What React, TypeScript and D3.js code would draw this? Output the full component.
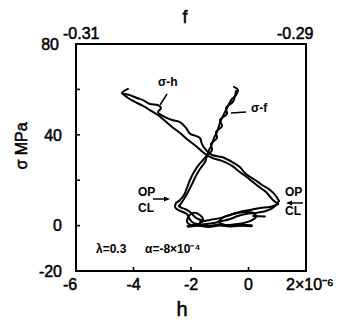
import React from "react";
import * as d3 from "d3";

// h axis (bottom, x1e-6), f axis (top), stress axis
const hTicks = [-6, -4, -2, 0, 2];
const hTickLabels = ["-6", "-4", "-2", "0", "2×10⁻⁶"];
const sTicks = [-20, 0, 20, 40, 60, 80];
const sTickLabels = ["-20", "0", "", "40", "", "80"];
const fTicks = [-0.31, -0.29];
const fTickLabels = ["-0.31", "-0.29"];

// sigma-h curve (h, MPa)
const sigmaHUpperA: [number, number][] = [
  [-4.19, 60.2], [-4.4, 58.4], [-4.12, 57.5], [-3.88, 56.2], [-3.67, 55.3], [-3.43, 53.6],
  [-3.15, 53.1], [-3.04, 51.8], [-3.15, 50.0], [-2.9, 47.8], [-2.66, 46.5], [-2.38, 45.6],
  [-2.17, 43.0], [-2.03, 40.4], [-1.83, 39.5], [-1.69, 38.6], [-1.62, 36.0], [-1.48, 33.3],
  [-1.27, 31.1], [-0.92, 30.2], [-0.57, 28.0], [-0.3, 25.8], [-0.09, 22.7], [0.23, 20.1],
  [0.47, 17.9], [0.75, 15.7], [0.96, 13.0], [1.06, 10.8],
];
const sigmaHUpperB: [number, number][] = [
  [1.03, 9.5], [0.85, 11.3], [0.61, 14.8], [0.33, 17.4], [-0.02, 21.0], [-0.3, 23.6],
  [-0.57, 26.3], [-0.92, 28.5], [-1.27, 29.8], [-1.55, 32.0], [-1.83, 35.1], [-2.1, 37.7],
  [-2.38, 40.8], [-2.66, 43.4], [-2.9, 46.1], [-3.15, 48.7], [-3.43, 50.9], [-3.67, 52.7],
  [-3.95, 54.5], [-4.19, 56.2], [-4.4, 58.4],
];
const sigmaHLowerC: [number, number][] = [
  [1.06, 10.8], [0.89, 8.2], [0.61, 6.4], [0.26, 5.6], [-0.09, 5.1], [-0.37, 4.2],
  [-0.64, 2.9], [-0.92, 2.0], [-1.2, 1.1], [-1.48, 0.7], [-1.76, 0.3],
];
const sigmaHLowerD: [number, number][] = [
  [-1.69, 1.6], [-1.34, 2.5], [-0.99, 3.3], [-0.64, 4.7], [-0.3, 6.0], [0.05, 6.9],
  [0.4, 7.8], [0.75, 8.2], [0.96, 9.1], [1.03, 9.5],
];
const bottomTrace: [number, number][] = [
  [-2.1, -0.3], [-1.75, 0.2], [-1.4, -0.4], [-1.0, 0.3], [-0.6, -0.2], [-0.2, 0.2], [0.1, -0.1],
];
const blobLeft: [number, number][] = [
  [-2.1, 3.8], [-1.93, 5.6], [-1.69, 4.7], [-1.58, 2.5], [-1.72, 0.7], [-2.0, 0.3], [-2.14, 1.6], [-2.1, 3.8],
];
const blobRight: [number, number][] = [
  [-1.06, 1.6], [-0.85, 3.8], [-0.54, 5.1], [-0.12, 6.0], [0.16, 5.6], [0.26, 3.8],
  [0.05, 2.0], [-0.37, 0.7], [-0.82, 0.3], [-1.06, 1.6],
];
const blobTail: [number, number][] = [[0.16, 4.2], [0.57, 4.0]];

// sigma-f curve (f, MPa)
const sigmaFUpperA: [number, number][] = [
  [-0.29626, 61.1], [-0.29591, 59.7], [-0.29609, 57.5], [-0.29643, 55.8], [-0.2967, 53.6],
  [-0.29687, 51.8], [-0.29713, 49.2], [-0.29739, 46.5], [-0.29757, 43.9], [-0.29774, 41.2],
  [-0.298, 38.6], [-0.29817, 36.0], [-0.29843, 33.3], [-0.29861, 31.1], [-0.29896, 28.9],
  [-0.29939, 26.3], [-0.29974, 23.6], [-0.30009, 20.1], [-0.30035, 16.6], [-0.30061, 13.5],
  [-0.30096, 11.3], [-0.3013, 10.0],
];
const sigmaFUpperB: [number, number][] = [
  [-0.30104, 8.6], [-0.30061, 11.7], [-0.30026, 14.8], [-0.29991, 18.3], [-0.29957, 21.9],
  [-0.29922, 24.9], [-0.29878, 28.0], [-0.2986, 30.7], [-0.29817, 33.3], [-0.29826, 36.0],
  [-0.29774, 38.6], [-0.29783, 41.2], [-0.2973, 43.9], [-0.29748, 46.5], [-0.29687, 49.2],
  [-0.29696, 51.8], [-0.29635, 54.5], [-0.29617, 57.1], [-0.29609, 59.3],
];
const sigmaFLowerC: [number, number][] = [
  [-0.3013, 10.0], [-0.30139, 8.2], [-0.30113, 6.9], [-0.3007, 6.0], [-0.30035, 5.1],
  [-0.30017, 3.3], [-0.29991, 1.6], [-0.29948, 0.7], [-0.29896, 0.3],
];
const sigmaFLowerD: [number, number][] = [
  [-0.30104, 8.6], [-0.30087, 7.9], [-0.30052, 7.3], [-0.30009, 6.0], [-0.29974, 4.2],
  [-0.29939, 2.9], [-0.29878, 2.0],
];

const W = 338;
const H = 320;
const L = 76, R = 306, T = 44, B = 271;

export default function App() {
  const x = d3.scaleLinear().domain([-6, 2]).range([L, R]);
  const xf = d3.scaleLinear().domain([-0.31, -0.29]).range([L, R]);
  const y = d3.scaleLinear().domain([-20, 80]).range([B, T]);

  const lineH = d3.line<[number, number]>().x((d) => x(d[0])).y((d) => y(d[1])).curve(d3.curveCatmullRom.alpha(0.5));
  const lineF = d3.line<[number, number]>().x((d) => xf(d[0])).y((d) => y(d[1])).curve(d3.curveCatmullRom.alpha(0.5));

  const font = "'Liberation Sans', Arial, sans-serif";
  const stroke = "#000";
  const heavy = { stroke: "#000", strokeWidth: 0.5 };

  return (
    <svg width={W} height={H} style={{ position: "absolute", left: 0, top: 0, background: "#fff" }} fontFamily={font}>
      <rect x={0} y={0} width={W} height={H} fill="#fff" />
      {/* frame */}
      <rect x={L} y={T} width={R - L} height={B - T} fill="none" stroke={stroke} strokeWidth={2} />
      {/* left ticks */}
      {sTicks.map((t, i) => (
        <g key={"s" + i}>
          {t > -20 && t < 80 && <line x1={L} x2={L + 4} y1={y(t)} y2={y(t)} stroke={stroke} strokeWidth={1.6} />}
          {sTickLabels[i] && (
            <text x={t === 80 ? 59 : 62} y={y(t)} dy="0.36em" textAnchor="end" fontSize={16} {...heavy}>
              {sTickLabels[i]}
            </text>
          )}
        </g>
      ))}
      {/* bottom ticks */}
      {hTicks.map((t, i) => (
        <g key={"h" + i}>
          {t > -6 && t < 2 && <line x1={x(t)} x2={x(t)} y1={B} y2={B - 4} stroke={stroke} strokeWidth={1.6} />}
          <text
            x={t === 2 ? x(t) - 20 : t === -6 ? x(t) - 6 : x(t)}
            y={B + 19}
            textAnchor={t === 2 ? "start" : "middle"}
            fontSize={16}
            {...heavy}
          >
            {hTickLabels[i]}
          </text>
        </g>
      ))}
      {/* top labels */}
      {fTicks.map((t, i) => (
        <text key={"f" + i} x={t === -0.31 ? xf(t) - 13 : xf(t) - 29} y={T - 5} fontSize={16} textAnchor="start" {...heavy}>
          {fTickLabels[i]}
        </text>
      ))}
      <text x={185} y={23} fontSize={18} textAnchor="middle" {...heavy}>f</text>
      <text x={182} y={316} fontSize={20} textAnchor="middle" {...heavy}>h</text>
      <text transform="translate(27,146) rotate(-90)" fontSize={16} textAnchor="middle" {...heavy}>σ MPa</text>

      {/* curves */}
      <g fill="none" stroke={stroke} strokeWidth={2} strokeLinejoin="round" strokeLinecap="round">
        <path d={lineH(sigmaHUpperA) || ""} />
        <path d={lineH(sigmaHUpperB) || ""} />
        <path d={lineH(sigmaHLowerC) || ""} />
        <path d={lineH(sigmaHLowerD) || ""} />
        <path d={lineH(blobLeft) || ""} />
        <path d={lineH(blobRight) || ""} />
        <path d={lineH(blobTail) || ""} />
        <path d={lineH(bottomTrace) || ""} strokeWidth={3} />
        <path d={lineF(sigmaFUpperA) || ""} />
        <path d={lineF(sigmaFUpperB) || ""} />
        <path d={lineF(sigmaFLowerC) || ""} />
        <path d={lineF(sigmaFLowerD) || ""} />
      </g>

      {/* annotations */}
      <text x={158} y={86} fontSize={12} fontWeight="bold">σ-h</text>
      <line x1={167} y1={94} x2={160} y2={105} stroke={stroke} strokeWidth={1.5} />
      <text x={251} y={112} fontSize={12} fontWeight="bold">σ-f</text>
      <line x1={231} y1={113} x2={246} y2={112} stroke={stroke} strokeWidth={1.5} />

      <g fontSize={12} fontWeight="bold">
        <text x={138} y={196}>OP</text>
        <text x={138} y={212}>CL</text>
        <text x={285} y={196}>OP</text>
        <text x={285} y={215}>CL</text>
        <text x={96} y={253}>λ=0.3</text>
        <text x={145} y={253}>α=-8×10⁻⁴</text>
      </g>
      <line x1={153} y1={199} x2={166} y2={199} stroke={stroke} strokeWidth={1.5} />
      <path d="M170,199 L164,196.5 L164,201.5 Z" fill={stroke} />
      <line x1={303} y1={203} x2={290} y2={203} stroke={stroke} strokeWidth={1.5} />
      <path d="M286,203 L292,200.5 L292,205.5 Z" fill={stroke} />
    </svg>
  );
}
